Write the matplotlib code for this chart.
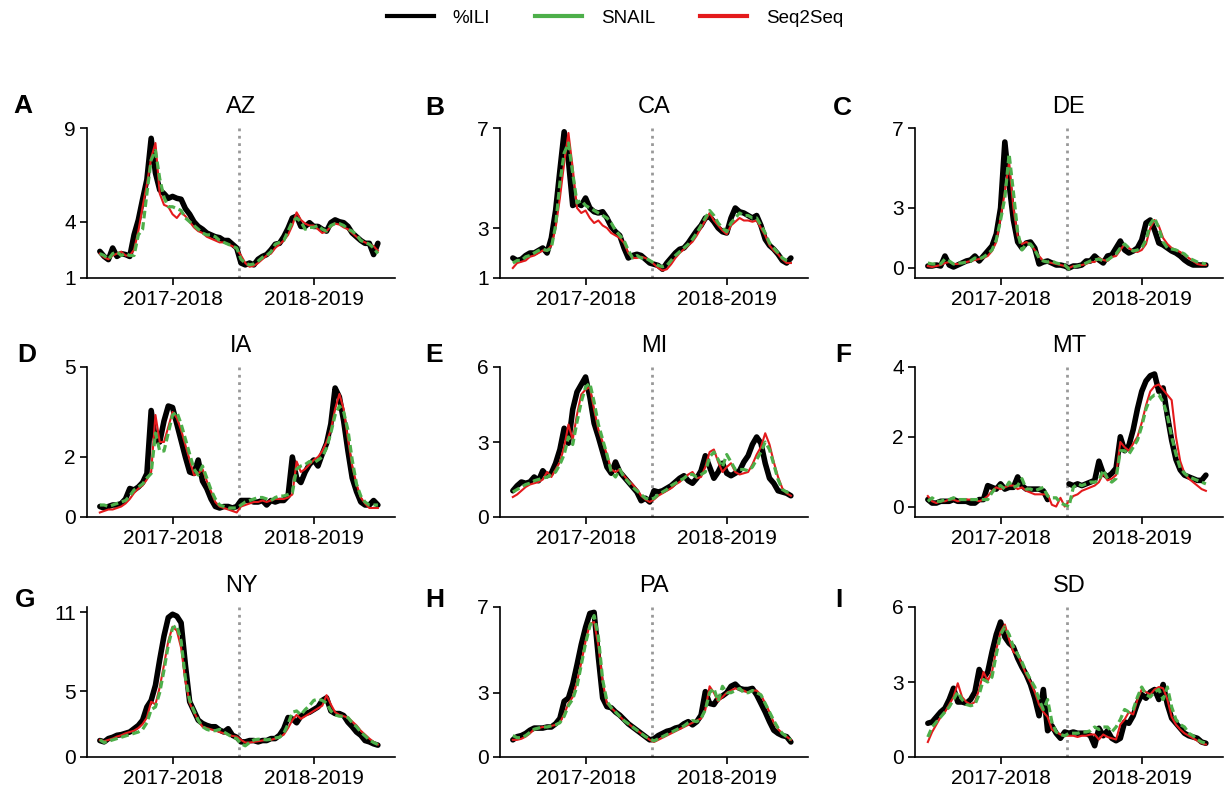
import numpy as np
import matplotlib
matplotlib.use('Agg')
from matplotlib import pyplot as plt
from matplotlib.lines import Line2D

plt.rcParams['font.family'] = ['Liberation Sans', 'DejaVu Sans']

nan = np.nan

#weekly %ILI and the two forecasts, season 2017-2018 then 2018-2019 (33 weeks each)
az_ili = [2.42, 2.15, 1.98, 2.6, 2.15, 2.3, 2.25, 2.15, 3.3, 4.1, 5.2,
	6.25, 8.45, 6.6, 5.7, 5.5, 5.25, 5.35, 5.25, 5.2, 4.7, 4.4,
	4.0, 3.75, 3.6, 3.4, 3.3, 3.2, 3.15, 3.0, 3.0, 2.8, 2.6,
	1.8, 1.7, 1.8, 1.7, 2.0, 2.15, 2.25, 2.5, 2.8, 2.85, 3.2,
	3.65, 4.2, 4.3, 3.75, 3.75, 3.95, 3.75, 3.75, 3.6, 3.5, 3.95,
	4.1, 4.0, 3.95, 3.75, 3.4, 3.2, 3.0, 2.85, 2.85, 2.25, 2.85]
az_seq = [2.3, 2.1, 2.0, 2.2, 2.3, 2.4, 2.2, 2.2, 2.5, 3.5, 4.8,
	6.0, 7.4, 8.2, 5.5, 4.9, 4.8, 4.4, 4.2, 4.5, 4.3, 4.0,
	3.7, 3.5, 3.4, 3.2, 3.1, 3.0, 2.9, 2.9, 2.8, 2.7, 2.55,
	2.2, 1.8, 1.6, 1.65, 1.8, 2.0, 2.2, 2.3, 2.6, 2.8, 3.0,
	3.3, 3.8, 4.5, 4.1, 3.9, 3.8, 3.8, 3.6, 3.4, 3.5, 3.75,
	3.9, 3.85, 3.7, 3.6, 3.4, 3.2, 3.0, 2.9, 2.8, 2.7, 2.45]
az_snail = [2.3, 2.2, 2.0, 2.3, 2.4, 2.2, 2.3, 2.2, 2.2, 3.3, 3.6,
	5.5, 7.3, 7.8, 6.3, 5.3, 4.8, 4.8, 4.7, 4.6, 4.2, 4.0,
	3.8, 3.6, 3.4, 3.3, 3.3, 3.2, 3.0, 2.9, 2.8, 2.7, 2.6,
	2.0, 1.8, 1.7, 1.75, 1.9, 2.1, 2.2, 2.4, 2.8, 2.9, 3.0,
	3.5, 4.0, 4.2, 4.0, 3.6, 3.7, 3.7, 3.8, 3.6, 3.5, 3.8,
	3.9, 3.9, 3.8, 3.6, 3.5, 3.3, 3.0, 2.9, 2.8, 2.6, 2.3]

ca_ili = [1.8, 1.7, 1.75, 1.9, 2.0, 2.0, 2.1, 2.2, 2.0, 2.6, 3.7,
	5.3, 6.85, 5.7, 3.9, 4.0, 3.9, 4.2, 3.8, 3.65, 3.6, 3.65,
	3.4, 3.05, 2.85, 2.7, 2.2, 1.8, 1.9, 1.95, 1.9, 1.75, 1.6,
	1.55, 1.5, 1.35, 1.6, 1.8, 2.0, 2.15, 2.2, 2.4, 2.65, 2.9,
	3.1, 3.4, 3.45, 3.25, 3.0, 2.85, 2.8, 3.4, 3.8, 3.65, 3.6,
	3.5, 3.4, 3.5, 3.1, 2.55, 2.3, 2.15, 1.95, 1.7, 1.6, 1.8]
ca_seq = [1.4, 1.6, 1.65, 1.7, 1.85, 1.9, 2.0, 2.1, 2.1, 2.3, 3.0,
	4.2, 5.6, 6.8, 5.4, 3.8, 3.6, 3.7, 3.4, 3.2, 3.3, 3.1,
	3.0, 2.8, 2.7, 2.6, 2.4, 2.0, 1.8, 1.8, 1.85, 1.8, 1.7,
	1.55, 1.4, 1.3, 1.35, 1.55, 1.8, 2.0, 2.15, 2.3, 2.45, 2.7,
	3.0, 3.3, 3.6, 3.3, 3.1, 2.9, 2.75, 3.1, 3.25, 3.4, 3.3,
	3.3, 3.25, 3.3, 3.0, 2.7, 2.3, 2.1, 1.95, 1.75, 1.6, 1.6]
ca_snail = [1.6, 1.7, 1.7, 1.85, 1.9, 2.0, 2.1, 2.15, 2.1, 2.2, 3.1,
	4.8, 6.0, 6.4, 5.2, 4.0, 4.1, 3.9, 3.8, 3.7, 3.6, 3.5,
	3.4, 3.2, 2.9, 2.7, 2.5, 2.1, 1.8, 1.9, 1.8, 1.8, 1.7,
	1.6, 1.5, 1.45, 1.5, 1.7, 1.9, 2.05, 2.2, 2.35, 2.55, 2.8,
	3.1, 3.4, 3.7, 3.5, 3.2, 3.0, 2.85, 3.2, 3.4, 3.6, 3.5,
	3.5, 3.4, 3.4, 3.1, 2.8, 2.4, 2.2, 2.0, 1.8, 1.7, 1.65]

de_ili = [0.1, 0.1, 0.15, 0.1, 0.6, 0.15, 0.05, 0.15, 0.25, 0.35, 0.4,
	0.6, 0.35, 0.6, 0.85, 1.1, 1.7, 3.0, 6.3, 4.2, 2.4, 1.3,
	1.0, 1.25, 1.3, 1.0, 0.2, 0.3, 0.35, 0.25, 0.15, 0.15, 0.1,
	0.0, 0.1, 0.1, 0.15, 0.35, 0.35, 0.6, 0.4, 0.25, 0.6, 0.65,
	1.0, 1.35, 0.9, 0.75, 0.85, 1.0, 1.4, 2.25, 2.4, 1.9, 1.25,
	1.15, 1.0, 0.85, 0.75, 0.6, 0.4, 0.25, 0.15, 0.15, 0.15, 0.15]
de_seq = [0.1, 0.05, 0.1, 0.15, 0.25, 0.3, 0.2, 0.2, 0.25, 0.3, 0.35,
	0.4, 0.45, 0.5, 0.6, 0.85, 1.3, 2.5, 3.8, 5.3, 3.0, 1.6,
	1.2, 1.3, 1.2, 0.9, 0.6, 0.35, 0.3, 0.25, 0.2, 0.15, 0.1,
	0.0, 0.1, 0.1, 0.15, 0.2, 0.3, 0.3, 0.5, 0.4, 0.35, 0.55,
	0.6, 0.9, 1.2, 1.0, 0.85, 0.8, 0.9, 1.2, 2.0, 2.4, 2.1,
	1.5, 1.2, 1.0, 0.9, 0.8, 0.65, 0.5, 0.35, 0.2, 0.15, 0.15]
de_snail = [0.25, 0.2, 0.2, 0.2, 0.45, 0.35, 0.2, 0.25, 0.25, 0.3, 0.35,
	0.5, 0.45, 0.55, 0.7, 0.9, 1.4, 2.4, 3.5, 5.7, 3.8, 1.8,
	0.9, 1.2, 1.2, 0.9, 0.5, 0.35, 0.3, 0.35, 0.25, 0.2, 0.15,
	-0.05, 0.05, 0.1, 0.15, 0.25, 0.35, 0.4, 0.45, 0.35, 0.4, 0.55,
	0.7, 1.0, 1.2, 1.0, 0.85, 0.9, 1.0, 1.4, 2.2, 2.5, 2.0,
	1.3, 1.0, 0.95, 0.9, 0.8, 0.7, 0.5, 0.4, 0.3, 0.25, 0.2]

ia_ili = [0.35, 0.3, 0.35, 0.4, 0.4, 0.45, 0.6, 0.95, 0.9, 1.0, 1.15,
	1.45, 3.55, 2.55, 2.5, 3.2, 3.7, 3.65, 3.1, 2.55, 2.0, 1.5,
	1.45, 1.9, 1.2, 0.95, 0.6, 0.35, 0.3, 0.35, 0.35, 0.3, 0.35,
	0.55, 0.55, 0.55, 0.5, 0.5, 0.55, 0.4, 0.55, 0.5, 0.55, 0.55,
	0.7, 2.0, 1.3, 1.15, 1.5, 1.75, 1.9, 1.7, 2.1, 2.45, 3.1,
	4.3, 4.0, 3.2, 2.2, 1.3, 0.85, 0.5, 0.4, 0.4, 0.55, 0.4]
ia_seq = [0.15, 0.2, 0.25, 0.25, 0.3, 0.35, 0.45, 0.6, 0.8, 0.95, 1.05,
	1.25, 1.5, 3.4, 2.5, 2.5, 3.0, 3.5, 3.3, 2.9, 2.4, 1.9,
	1.4, 1.45, 1.6, 1.2, 0.85, 0.5, 0.35, 0.3, 0.25, 0.2, 0.15,
	0.35, 0.4, 0.45, 0.5, 0.5, 0.55, 0.5, 0.55, 0.6, 0.6, 0.6,
	0.65, 0.75, 1.85, 1.5, 1.6, 1.75, 1.9, 2.0, 2.2, 2.5, 2.9,
	3.6, 4.1, 3.6, 2.6, 1.7, 1.1, 0.65, 0.45, 0.3, 0.3, 0.3]
ia_snail = [0.4, 0.4, 0.35, 0.4, 0.45, 0.5, 0.55, 0.7, 0.9, 1.0, 1.1,
	1.3, 1.45, 2.8, 2.2, 2.2, 2.8, 3.4, 3.5, 3.1, 2.6, 2.1,
	1.6, 1.4, 1.7, 1.3, 0.9, 0.6, 0.4, 0.35, 0.3, 0.3, 0.3,
	0.4, 0.5, 0.55, 0.6, 0.65, 0.65, 0.6, 0.55, 0.65, 0.7, 0.7,
	0.75, 0.8, 1.6, 1.7, 1.75, 1.85, 1.8, 1.9, 2.0, 2.3, 2.8,
	3.4, 3.7, 3.5, 2.9, 1.9, 1.1, 0.7, 0.5, 0.4, 0.4, 0.4]

mi_ili = [1.05, 1.25, 1.4, 1.35, 1.4, 1.6, 1.45, 1.85, 1.65, 1.75, 2.15,
	2.7, 3.55, 2.95, 4.3, 5.0, 5.3, 5.6, 4.8, 3.75, 3.2, 2.6,
	2.0, 1.75, 2.2, 1.8, 1.6, 1.4, 1.2, 1.0, 0.65, 0.75, 0.6,
	1.05, 1.0, 1.05, 1.15, 1.25, 1.4, 1.55, 1.65, 1.45, 1.35, 1.55,
	1.85, 2.45, 2.0, 1.55, 1.8, 2.15, 1.75, 1.65, 1.75, 1.85, 2.2,
	2.45, 2.9, 3.2, 2.95, 2.15, 1.55, 1.35, 1.05, 1.0, 0.95, 0.85]
mi_seq = [0.8, 0.9, 1.05, 1.2, 1.3, 1.35, 1.4, 1.5, 1.8, 1.6, 1.9,
	2.2, 2.8, 3.7, 3.1, 4.1, 4.9, 5.1, 5.2, 4.3, 3.5, 3.0,
	2.5, 1.9, 1.8, 1.9, 1.65, 1.45, 1.3, 1.1, 0.85, 0.7, 0.6,
	0.7, 0.85, 0.95, 1.05, 1.15, 1.3, 1.4, 1.55, 1.7, 1.8, 1.55,
	1.6, 2.0, 2.6, 2.7, 2.2, 1.8, 2.0, 2.15, 1.8, 1.7, 1.75,
	1.8, 2.1, 2.5, 2.8, 3.35, 2.9, 2.2, 1.6, 1.15, 0.95, 0.85]
mi_snail = [1.0, 1.1, 1.2, 1.3, 1.35, 1.45, 1.5, 1.55, 1.6, 1.7, 1.8,
	2.1, 2.5, 3.2, 2.9, 3.8, 4.6, 5.2, 5.35, 4.6, 3.7, 3.1,
	2.5, 1.8, 1.6, 1.9, 1.6, 1.4, 1.2, 1.05, 0.9, 0.75, 0.7,
	0.75, 0.9, 1.0, 1.1, 1.25, 1.35, 1.45, 1.55, 1.7, 1.7, 1.6,
	1.7, 1.8, 2.4, 2.6, 2.3, 2.0, 2.5, 2.2, 1.9, 1.9, 1.9,
	1.85, 2.0, 2.3, 2.6, 3.0, 2.7, 2.1, 1.5, 1.1, 1.0, 0.95]

mt_ili = [0.2, 0.1, 0.1, 0.15, 0.15, 0.15, 0.2, 0.15, 0.15, 0.15, 0.1,
	0.1, 0.2, 0.2, 0.6, 0.55, 0.5, 0.65, 0.5, 0.55, 0.55, 0.85,
	0.6, 0.5, 0.5, 0.5, 0.5, 0.45, 0.2, nan, nan, nan, nan,
	0.65, 0.6, 0.65, 0.6, 0.65, 0.7, 0.75, 1.3, 0.95, 0.85, 0.95,
	1.1, 2.0, 1.6, 1.75, 2.2, 2.8, 3.3, 3.6, 3.75, 3.8, 3.3,
	3.4, 2.6, 1.9, 1.35, 1.05, 0.9, 0.85, 0.8, 0.75, 0.75, 0.9]
mt_seq = [0.3, 0.15, 0.1, 0.15, 0.15, 0.2, 0.2, 0.15, 0.2, 0.2, 0.2,
	0.2, 0.15, 0.2, 0.3, 0.45, 0.55, 0.5, 0.55, 0.6, 0.6, 0.5,
	0.55, 0.45, 0.4, 0.35, 0.35, 0.35, 0.35, 0.05, 0.0, 0.25, 0.0,
	0.15, 0.3, 0.35, 0.45, 0.5, 0.55, 0.6, 0.7, 0.95, 0.75, 0.8,
	0.9, 1.85, 1.7, 1.6, 1.8, 2.0, 2.4, 2.9, 3.3, 3.45, 3.5,
	3.35, 3.2, 3.05, 2.0, 1.3, 0.95, 0.8, 0.7, 0.6, 0.5, 0.45]
mt_snail = [0.15, 0.25, 0.15, 0.15, 0.2, 0.2, 0.25, 0.2, 0.2, 0.2, 0.2,
	0.2, 0.2, 0.2, 0.2, 0.4, 0.55, 0.6, 0.5, 0.7, 0.55, 0.6,
	0.8, 0.5, 0.5, 0.45, 0.5, 0.55, 0.3, 0.25, 0.25, 0.1, 0.05,
	0.0, 0.55, 0.65, 0.6, 0.65, 0.7, 0.7, 0.75, 1.05, 0.8, 0.7,
	0.8, 1.6, 1.6, 1.5, 1.7, 1.9, 2.3, 2.8, 3.1, 3.2, 3.2,
	3.0, 2.6, 2.0, 1.5, 1.1, 0.95, 0.85, 0.8, 0.75, 0.7, 0.65]

ny_ili = [1.25, 1.15, 1.4, 1.5, 1.65, 1.7, 1.8, 1.9, 2.15, 2.4, 2.8,
	3.8, 4.3, 5.45, 7.4, 9.2, 10.6, 10.85, 10.7, 10.2, 7.0, 4.2,
	3.5, 2.8, 2.55, 2.4, 2.3, 2.3, 2.05, 1.9, 2.15, 1.65, 1.5,
	1.15, 1.15, 1.25, 1.25, 1.15, 1.25, 1.25, 1.4, 1.4, 1.65, 2.15,
	3.0, 2.9, 2.6, 3.1, 3.3, 3.4, 3.6, 3.8, 4.3, 4.5, 3.5,
	3.3, 3.3, 3.15, 2.65, 2.3, 1.9, 1.65, 1.25, 1.15, 1.0, 0.9]
ny_seq = [1.3, 1.2, 1.3, 1.4, 1.55, 1.65, 1.8, 1.9, 2.0, 2.2, 2.5,
	3.0, 4.2, 4.0, 5.3, 7.0, 8.8, 9.9, 9.6, 8.3, 5.8, 4.1,
	3.4, 2.8, 2.3, 2.2, 2.1, 2.0, 1.9, 1.8, 1.7, 1.6, 1.55,
	1.3, 1.1, 1.1, 1.15, 1.2, 1.25, 1.3, 1.3, 1.4, 1.5, 1.7,
	2.2, 2.8, 3.2, 2.9, 3.1, 3.3, 3.5, 3.7, 3.9, 4.7, 4.0,
	3.4, 3.2, 3.1, 3.0, 2.7, 2.4, 2.0, 1.7, 1.4, 1.15, 0.95]
ny_snail = [1.3, 1.1, 1.2, 1.3, 1.4, 1.5, 1.6, 1.7, 1.8, 1.9, 2.1,
	2.6, 3.6, 3.8, 4.9, 6.6, 8.5, 9.8, 10.0, 8.8, 6.0, 4.3,
	3.5, 2.8, 2.3, 2.1, 2.0, 2.0, 2.1, 1.9, 1.7, 1.5, 1.4,
	1.0, 0.85, 1.1, 1.3, 1.35, 1.35, 1.3, 1.35, 1.45, 1.5, 1.8,
	2.5, 3.4, 3.5, 3.2, 3.6, 3.9, 4.3, 4.4, 4.3, 4.1, 3.5,
	3.2, 3.1, 3.1, 3.0, 2.6, 2.3, 1.9, 1.6, 1.3, 1.1, 0.95]

pa_ili = [0.8, 0.95, 1.0, 1.1, 1.25, 1.35, 1.35, 1.35, 1.4, 1.4, 1.55,
	1.8, 2.6, 2.75, 3.4, 4.3, 5.25, 6.05, 6.7, 6.75, 4.65, 2.75,
	2.35, 2.3, 2.1, 1.95, 1.75, 1.55, 1.4, 1.25, 1.1, 0.95, 0.8,
	0.85, 1.0, 1.1, 1.2, 1.25, 1.35, 1.4, 1.55, 1.65, 1.5, 1.65,
	1.95, 3.05, 2.5, 2.45, 2.75, 2.85, 3.0, 3.3, 3.4, 3.2, 3.15,
	3.15, 3.2, 2.9, 2.5, 2.1, 1.65, 1.25, 1.1, 1.0, 0.95, 0.7]
pa_seq = [0.8, 0.8, 0.85, 0.95, 1.1, 1.3, 1.35, 1.4, 1.4, 1.45, 1.5,
	1.6, 2.0, 2.5, 2.8, 3.5, 4.4, 5.4, 6.2, 6.3, 5.2, 3.5,
	2.5, 2.3, 2.1, 1.9, 1.7, 1.55, 1.4, 1.25, 1.1, 0.95, 0.8,
	0.7, 0.8, 0.9, 1.0, 1.1, 1.2, 1.3, 1.4, 1.5, 1.6, 1.7,
	1.8, 2.2, 3.3, 3.0, 2.6, 2.8, 3.0, 3.1, 3.2, 3.15, 3.1,
	3.0, 3.1, 3.1, 2.9, 2.5, 2.1, 1.6, 1.3, 1.1, 0.95, 0.8]
pa_snail = [1.0, 0.9, 0.9, 1.0, 1.15, 1.3, 1.35, 1.4, 1.4, 1.45, 1.5,
	1.6, 1.9, 2.4, 2.7, 3.3, 4.3, 5.3, 6.1, 6.6, 5.6, 3.6,
	2.6, 2.3, 2.1, 1.9, 1.7, 1.55, 1.4, 1.25, 1.1, 0.95, 0.85,
	0.75, 0.85, 0.95, 1.05, 1.15, 1.25, 1.35, 1.45, 1.6, 1.7, 1.65,
	1.8, 2.2, 3.0, 3.2, 2.6, 3.3, 3.0, 3.0, 3.1, 3.2, 3.0,
	3.0, 3.1, 3.0, 2.9, 2.5, 2.1, 1.7, 1.35, 1.1, 0.95, 0.8]

sd_ili = [1.35, 1.4, 1.6, 1.8, 1.95, 2.3, 2.75, 2.2, 2.2, 2.15, 2.3,
	2.6, 3.5, 3.15, 3.4, 4.2, 4.9, 5.4, 4.8, 4.55, 4.4, 3.95,
	3.6, 3.3, 2.9, 2.35, 1.65, 2.7, 1.05, 1.25, 0.95, 0.75, 1.0,
	0.95, 1.0, 0.95, 0.95, 0.95, 0.85, 0.45, 1.15, 0.85, 1.05, 0.75,
	0.65, 0.75, 1.4, 1.35, 1.65, 2.15, 2.5, 2.35, 2.6, 2.7, 2.3,
	2.9, 2.1, 1.55, 1.35, 1.15, 0.95, 0.85, 0.8, 0.75, 0.6, 0.55]
sd_seq = [0.6, 1.0, 1.3, 1.6, 1.8, 2.1, 2.4, 2.95, 2.4, 2.2, 2.1,
	2.2, 2.7, 3.4, 3.05, 3.4, 4.3, 5.0, 5.3, 4.7, 4.2, 4.1,
	3.7, 3.3, 3.0, 2.6, 2.1, 1.8, 1.6, 1.1, 1.0, 0.9, 0.85,
	0.85, 0.85, 0.8, 0.85, 0.85, 0.9, 0.9, 0.7, 0.9, 0.8, 0.75,
	0.7, 1.3, 1.5, 1.8, 1.7, 2.3, 2.7, 2.6, 2.5, 2.7, 2.8,
	2.75, 2.3, 1.6, 1.3, 1.1, 0.95, 0.85, 0.75, 0.65, 0.55, 0.5]
sd_snail = [0.8, 1.2, 1.4, 1.6, 1.8, 2.0, 2.3, 2.6, 2.3, 2.1, 2.05,
	2.1, 2.5, 3.1, 3.0, 3.2, 4.1, 4.9, 5.2, 4.9, 4.4, 4.1,
	3.8, 3.4, 3.1, 2.8, 2.3, 1.9, 2.3, 1.4, 1.0, 0.9, 0.85,
	0.95, 0.95, 0.95, 1.0, 1.0, 1.05, 1.2, 1.1, 1.2, 1.2, 1.0,
	1.2, 1.5, 1.9, 1.8, 1.9, 2.4, 2.8, 2.5, 2.4, 2.6, 2.7,
	2.3, 2.8, 2.0, 1.5, 1.3, 1.2, 0.95, 0.85, 0.7, 0.6, 0.55]

states = ['AZ', 'CA', 'DE', 'IA', 'MI', 'MT', 'NY', 'PA', 'SD']
letters = ['A', 'B', 'C', 'D', 'E', 'F', 'G', 'H', 'I']
season_labels = ['2017-2018', '2018-2019']
yticks = [[1, 4, 9], [1, 3, 7], [0, 3, 7], [0, 2, 5], [0, 3, 6], [0, 2, 4], [0, 5, 11], [0, 3, 7], [0, 3, 6]]
ylims = [(1, 9), (1, 7), (-0.5, 7), (0, 5), (0, 6), (-0.3, 4), (0, 11.4), (0, 7), (0, 6)]

series = [(az_ili, az_snail, az_seq), (ca_ili, ca_snail, ca_seq), (de_ili, de_snail, de_seq),
	(ia_ili, ia_snail, ia_seq), (mi_ili, mi_snail, mi_seq), (mt_ili, mt_snail, mt_seq),
	(ny_ili, ny_snail, ny_seq), (pa_ili, pa_snail, pa_seq), (sd_ili, sd_snail, sd_seq)]

black = '#000000'
green = '#4daf4a'
red = '#e41a1c'

W, H = 1228, 795
fig = plt.figure(figsize=(W / 100, H / 100), dpi=100)

col_left = [87, 500, 915]
row_top = [128, 367, 607]
ax_w, ax_h = 308, 150
# panel letter spots (px from left, baseline px from top)
letter_pos = [(13, 113), (425, 115), (833, 115),
	(17, 362), (425, 362), (835, 362),
	(15, 607), (425, 607), (835, 607)]

weeks = np.arange(66)

for i, st in enumerate(states):
	r, c = divmod(i, 3)
	ax = fig.add_axes([col_left[c] / W, 1 - (row_top[r] + ax_h) / H, ax_w / W, ax_h / H])
	ili, snail, seq = series[i]
	ax.plot(weeks, ili, color=black, lw=4.0, solid_capstyle='round', zorder=2)
	ax.plot(weeks, seq, color=red, lw=1.5, zorder=3)
	ax.plot(weeks, snail, color=green, lw=2.3, dashes=(2.4, 1.2), zorder=4)
	ax.axvline(32.5, color='#999999', ls=':', lw=2, zorder=1)
	ax.set_xlim(-3, 69)
	ax.set_ylim(*ylims[i])
	ax.set_yticks(yticks[i])
	ax.set_xticks([17, 50])
	ax.set_xticklabels(season_labels)
	ax.spines['top'].set_visible(False)
	ax.spines['right'].set_visible(False)
	for s in ['left', 'bottom']:
		ax.spines[s].set_linewidth(1.2)
	ax.tick_params(axis='both', length=5, width=1.2, direction='out')
	ax.tick_params(axis='x', labelsize=15, pad=4)
	ax.tick_params(axis='y', labelsize=15, pad=3)
	ax.set_title(st, fontsize=17, pad=11)
	lx, ly = letter_pos[i]
	fig.text(lx / W, 1 - ly / H, letters[i], fontsize=19, fontweight='bold', ha='left', va='baseline')

handles = [Line2D([], [], color=black, lw=3),
	Line2D([], [], color=green, lw=3),
	Line2D([], [], color=red, lw=3)]
fig.legend(handles, ['%ILI', 'SNAIL', 'Seq2Seq'], loc='center', bbox_to_anchor=(615 / W, 1 - 18 / H),
	ncol=3, frameon=False, fontsize=13.5, handlelength=2.5, handletextpad=1.0, columnspacing=2.4)

plt.savefig('out.png', dpi=100)
